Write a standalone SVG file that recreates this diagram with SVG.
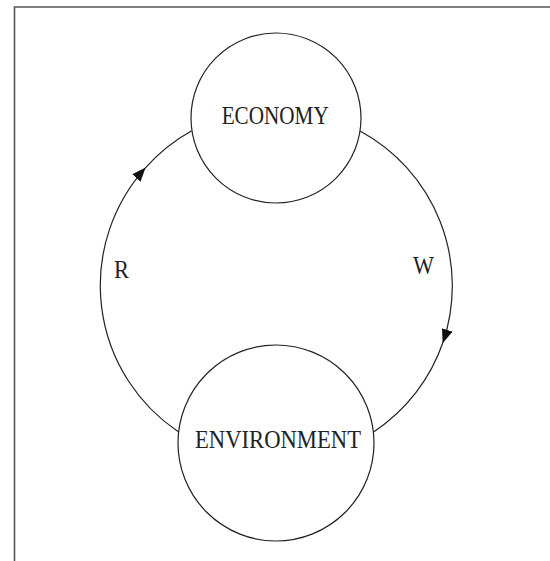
<svg xmlns="http://www.w3.org/2000/svg" width="550" height="561" viewBox="0 0 550 561">
<style>
.node{fill:#fff;stroke:#222;stroke-width:1.2}
.conn{fill:none;stroke:#222;stroke-width:1.2}
.lbl{font-family:"Liberation Serif","Times New Roman",serif;font-size:25.5px;fill:#222}
.frame{fill:none;stroke:#555;stroke-width:1.6}
</style>
<defs>
<marker id="arr" viewBox="0 0 14 11" refX="13" refY="5.5" markerWidth="14" markerHeight="11" markerUnits="userSpaceOnUse" orient="auto">
<path d="M0,0 L14,5.5 L0,11 z" fill="#111"/>
</marker>
</defs>
<path class="frame" d="M550,7 L14.5,7 L14.5,561"/>
<g id="connectors">
<path class="conn" d="M178.3,431.7 A176,176 0 0 1 145,168.3" marker-end="url(#arr)"/>
<path class="conn" d="M145,168.3 A176,176 0 0 1 191.7,130.7"/>
<path class="conn" d="M360,131 A176,176 0 0 1 443,342.3" marker-end="url(#arr)"/>
<path class="conn" d="M443,342.3 A176,176 0 0 1 374,431.7"/>
<text class="lbl" x="114" y="278" textLength="15" lengthAdjust="spacingAndGlyphs">R</text>
<text class="lbl" x="413" y="274" textLength="21" lengthAdjust="spacingAndGlyphs">W</text>
</g>
<g id="economy">
<circle class="node" cx="276" cy="118" r="85"/>
<text class="lbl" x="221.7" y="123.5" textLength="107" lengthAdjust="spacingAndGlyphs">ECONOMY</text>
</g>
<g id="environment">
<circle class="node" cx="276" cy="443" r="98"/>
<text class="lbl" x="195" y="447.5" textLength="166" lengthAdjust="spacingAndGlyphs">ENVIRONMENT</text>
</g>
</svg>
